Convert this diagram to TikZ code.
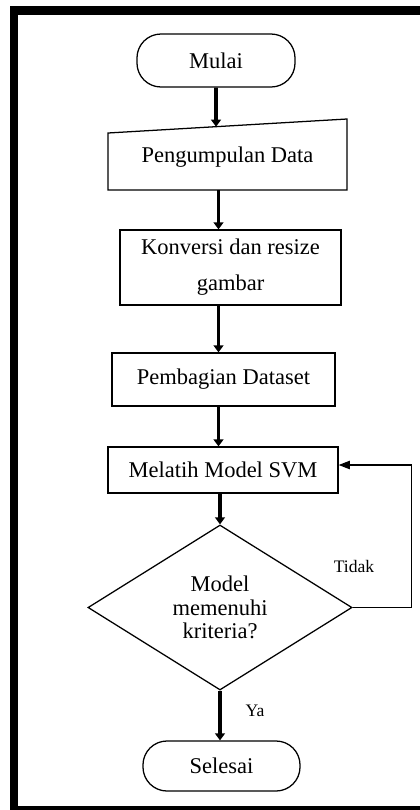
\documentclass[tikz,border=0pt]{standalone}
\usepackage{fontspec}
\setmainfont{Liberation Serif}
\usetikzlibrary{calc,shapes.geometric,arrows.meta}

\tikzset{
  term/.style={draw,line width=0.9pt,rounded corners=0.6cm,font=\fontsize{16}{20}\selectfont},
  proc/.style={draw,line width=0.9pt,align=center,font=\fontsize{16}{25.6}\selectfont},
  dec/.style={draw,diamond,line width=0.9pt,aspect=1.6,inner sep=0pt,align=center,font=\fontsize{16}{16.7}\selectfont},
  flow/.style={line width=2.6pt,-{Triangle[width=7pt,length=5pt]}},
  back/.style={line width=0.9pt,-{Triangle[width=6pt,length=8pt]}},
  lbl/.style={font=\fontsize{12.5}{15}\selectfont}
}

\begin{document}
\begin{tikzpicture}[x=0.025cm,y=-0.025cm]
    \useasboundingbox (0,0) rectangle (420,810);
    \clip (0,0) rectangle (420,810);
    \fill[white] (0,0) rectangle (420,810);
    \draw[line width=6pt] (14,10.5) rectangle (440,810);

    \node[term,minimum width=3.95cm,minimum height=1.325cm] (mulai) at (216,60.5) {Mulai};
    % data input, slanted top
    \coordinate (pengNW) at (108,133);
    \coordinate (pengNE) at (347,119);
    \coordinate (pengSE) at (347,190);
    \coordinate (pengSW) at (108,190);
    \node[font=\fontsize{16}{20}\selectfont] (peng) at (227.5,157) {Pengumpulan Data};
    \draw[line width=0.9pt] (pengNW)--(pengNE)--(pengSE)--(pengSW)--cycle;
    \coordinate (pengtop) at ($(pengNW)!0.452!(pengNE)$);
    \node[proc,minimum width=5.525cm,minimum height=1.875cm] (konv) at (230.5,267.5) {Konversi dan resize\\gambar};
    \node[proc,minimum width=5.575cm,minimum height=1.325cm] (pemb) at (223.5,379.5) {Pembagian Dataset};
    \node[proc,minimum width=5.75cm,minimum height=1.15cm] (mel) at (223,470) {Melatih Model SVM};
    \node[dec,minimum width=6.6cm,minimum height=4.125cm] (krit) at (220,607.5) {Model\\memenuhi\\kriteria?};
    \node[term,minimum width=3.925cm,minimum height=1.25cm] (sel) at (221.5,766) {Selesai};
    \coordinate (axis) at (218.5,0);

    \draw[flow] (mulai.south)--(pengtop);
    \draw[flow] (pengSW -| axis)--(konv.north -| axis);
    \draw[flow] (konv.south -| axis)--(pemb.north -| axis);
    \draw[flow] (pemb.south -| axis)--(mel.north -| axis);
    \draw[flow] (mel.south -| krit.north)--(krit.north);
    \draw[flow] (krit.south)--(krit.south |- sel.north);
    \draw[back] (krit.east)--++(59,0) |- ($(mel.east)+(0,-5)$);

    \node[lbl] (tidak) at (354,566) {Tidak};
    \node[lbl] (ya) at (255,711) {Ya};
\end{tikzpicture}
\end{document}
